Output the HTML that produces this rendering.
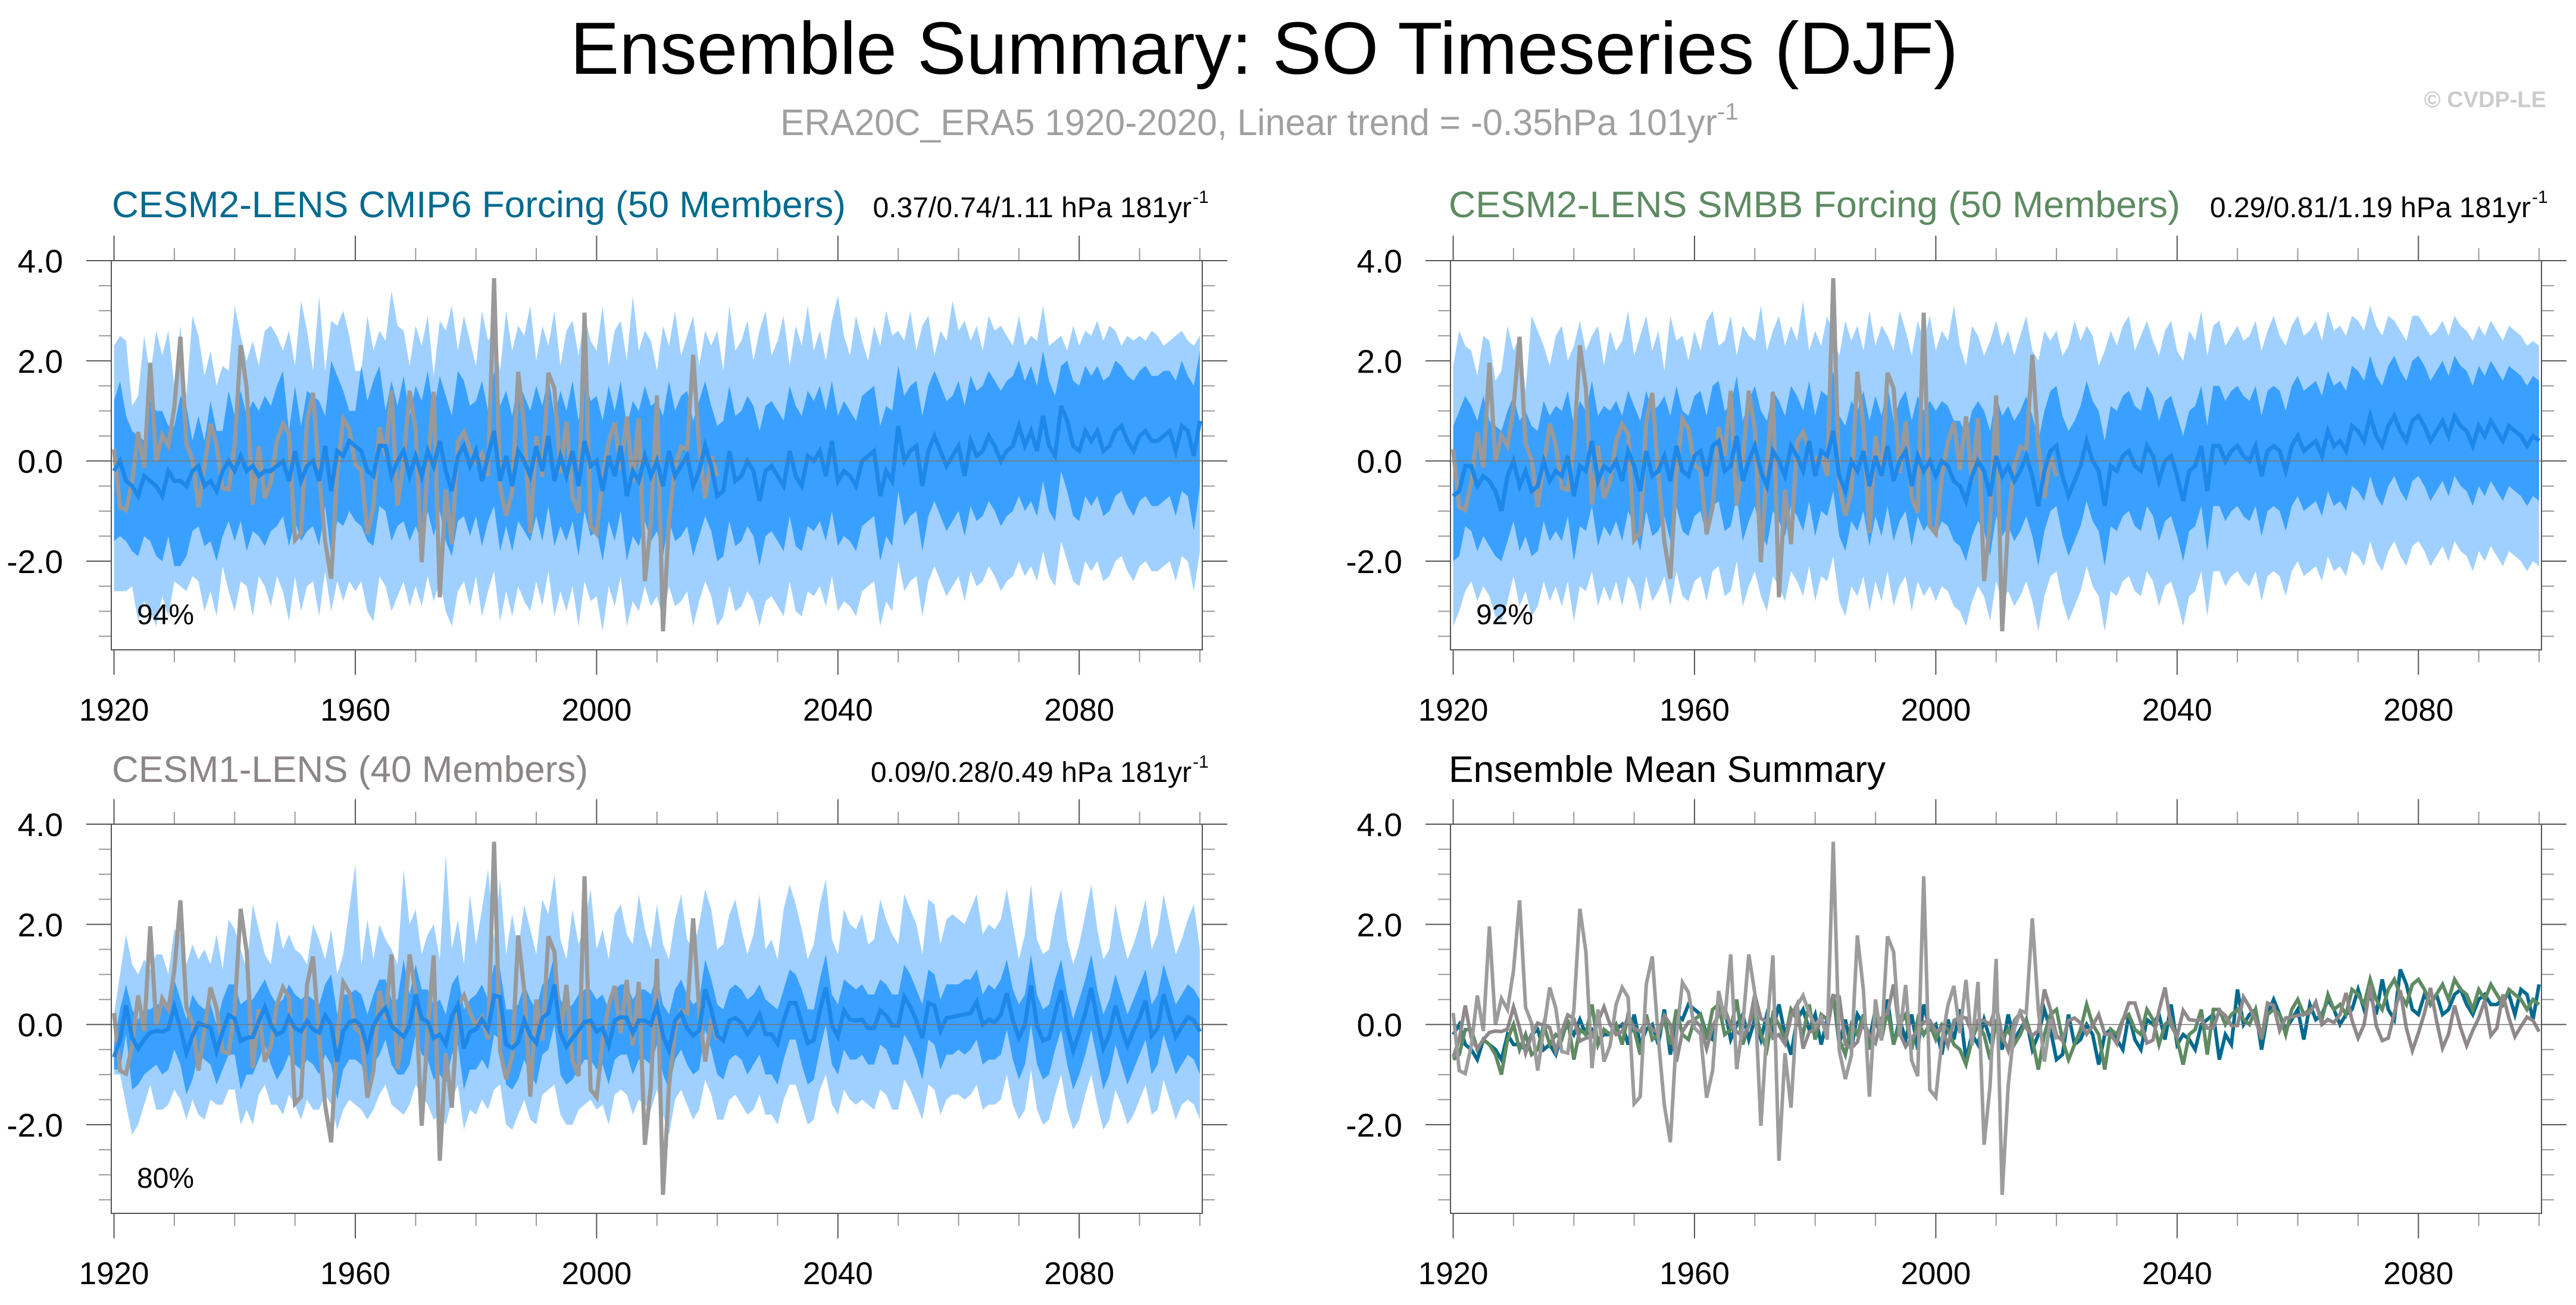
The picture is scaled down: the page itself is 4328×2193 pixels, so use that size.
<!DOCTYPE html>
<html><head><meta charset="utf-8"><title>Ensemble Summary: SO Timeseries (DJF)</title>
<style>
html,body{margin:0;padding:0;background:#fff;}
svg{display:block;font-family:"Liberation Sans",Arial,sans-serif;}
</style></head>
<body>
<svg id="chart" xmlns="http://www.w3.org/2000/svg" width="4328" height="2193" viewBox="0 0 4328 2193">
<rect x="0" y="0" width="4328" height="2193" fill="#ffffff"/>
<text x="2124" y="124" font-size="124" text-anchor="middle" textLength="2332" lengthAdjust="spacingAndGlyphs" fill="#000">Ensemble Summary: SO Timeseries (DJF)</text>
<text x="1311" y="227" font-size="62" fill="#a0a0a0"><tspan textLength="1574" lengthAdjust="spacingAndGlyphs">ERA20C_ERA5 1920-2020, Linear trend = -0.35hPa 101yr</tspan><tspan font-size="40" dy="-26">-1</tspan></text>
<text x="4278" y="180" font-size="38" font-weight="bold" text-anchor="end" fill="#cccccc">© CVDP-LE</text>

<text x="188" y="365" font-size="62" fill="#006a8e" textLength="1233" lengthAdjust="spacingAndGlyphs">CESM2-LENS CMIP6 Forcing (50 Members)</text>
<text x="2002" y="365" font-size="48" text-anchor="end" fill="#000">0.37/0.74/1.11 hPa 181yr</text>
<text x="2004" y="341" font-size="30" fill="#000">-1</text>

<text x="2434" y="365" font-size="62" fill="#5e8b62" textLength="1229" lengthAdjust="spacingAndGlyphs">CESM2-LENS SMBB Forcing (50 Members)</text>
<text x="4252" y="365" font-size="48" text-anchor="end" fill="#000">0.29/0.81/1.19 hPa 181yr</text>
<text x="4254" y="341" font-size="30" fill="#000">-1</text>

<text x="188" y="1314" font-size="62" fill="#8c8686" textLength="800" lengthAdjust="spacingAndGlyphs">CESM1-LENS (40 Members)</text>
<text x="2002" y="1314" font-size="48" text-anchor="end" fill="#000">0.09/0.28/0.49 hPa 181yr</text>
<text x="2004" y="1290" font-size="30" fill="#000">-1</text>

<text x="2434" y="1314" font-size="62" fill="#000" textLength="734" lengthAdjust="spacingAndGlyphs">Ensemble Mean Summary</text>
</svg>
<script>
const startYear = 1920;
const yTickValues = [-2, 0, 2, 4];
const yTickLabels = ["-2.0", "0.0", "2.0", "4.0"];
const xTickValues = [1920, 1960, 2000, 2040, 2080];
const xTickLabels = ["1920", "1960", "2000", "2040", "2080"];

const obs = [0.23,-0.92,-0.98,-0.42,0.58,-0.13,1.96,-0.01,0.52,0.3,
1.08,2.48,0.34,0.03,-0.92,-0.1,0.74,0.33,-0.54,-0.57,
0.3,2.31,1.45,-0.87,0.3,-0.74,-0.42,0.4,0.74,0.54,
-1.58,-1.44,0.8,1.36,-0.27,-1.61,-2.35,-0.22,0.84,0.64,
-0.07,-0.19,-1.46,-0.92,0.67,0.1,1.4,-0.89,0.0,1.4,
0.63,-2.02,-0.1,1.38,-2.72,-0.57,-1.66,0.38,0.58,0.23,
-0.02,0.15,-0.3,3.65,-0.52,-1.09,-0.62,1.78,0.68,-1.44,
0.5,-0.32,1.76,1.45,-0.24,0.79,-0.72,-1.03,2.96,-1.3,
-1.45,-0.32,0.38,0.77,-0.17,0.89,-0.42,0.85,-2.4,-1.22,
1.31,-3.4,-1.22,-0.1,0.28,0.23,2.12,0.28,-0.74,0.1,
-0.3];

/* CESM2-LENS CMIP6 */
const cmip6Mean = [-0.2,0.0,-0.4,-0.5,-0.7,-0.3,-0.4,-0.5,-0.7,-0.2,
-0.4,-0.4,-0.5,-0.2,-0.1,-0.5,-0.4,-0.6,-0.2,0.0,
-0.2,0.1,-0.2,-0.1,-0.3,-0.2,-0.2,-0.1,0.0,-0.4,
0.2,-0.4,-0.1,0.0,-0.4,0.3,-0.6,0.2,0.1,0.4,
0.3,0.2,-0.2,-0.3,0.3,0.3,-0.3,0.0,0.2,-0.3,
0.1,-0.3,0.2,-0.1,0.4,-0.2,-0.6,0.1,0.3,-0.1,
0.2,-0.4,0.1,0.6,-0.4,0.1,-0.5,0.2,0.0,-0.3,
0.3,-0.2,0.5,-0.4,0.1,-0.3,0.2,-0.5,0.4,-0.1,
0.0,-0.6,0.1,-0.3,0.3,-0.7,-0.2,-0.4,0.1,-0.3,
0.0,-0.5,0.2,-0.3,-0.1,0.1,-0.5,-0.2,0.3,-0.1,
-0.7,-0.6,0.2,-0.4,-0.3,0.0,-0.2,-0.8,-0.2,-0.1,
-0.3,-0.5,0.2,-0.3,-0.5,0.1,0.0,0.2,-0.3,0.4,
-0.4,-0.2,-0.3,-0.5,0.0,0.1,0.2,-0.7,-0.2,-0.4,
0.7,0.0,0.2,0.3,-0.5,0.2,0.5,0.2,-0.1,0.1,
0.3,-0.3,0.4,0.1,0.2,0.5,0.3,0.0,0.2,0.3,
0.7,0.3,0.6,0.2,0.9,0.3,0.1,1.1,0.8,0.3,
0.2,0.6,0.4,0.6,0.2,0.3,0.6,0.7,0.4,0.2,
0.5,0.6,0.4,0.4,0.5,0.6,0.2,0.7,0.6,0.1,
0.8];
const cmip6OuterHigh = [2.3,2.5,2.4,1.1,1.3,2.5,1.7,2.6,2.1,2.6,
1.5,2.7,1.3,2.9,2.5,1.7,2.2,1.5,1.9,1.8,
3.1,2.5,2.0,2.4,1.9,2.6,2.7,2.5,2.2,2.6,
1.9,3.2,2.6,1.8,3.3,1.8,2.8,2.7,3.0,2.5,
1.8,1.8,2.9,2.2,2.6,2.4,3.4,2.7,2.6,1.9,
2.7,2.3,2.9,1.7,2.8,2.6,3.1,2.2,2.9,2.4,
1.9,3.0,2.4,2.6,1.8,3.0,2.2,2.7,2.5,3.1,
2.0,2.7,2.3,3.0,1.9,2.6,2.8,2.1,2.9,2.4,
2.2,3.1,1.9,2.6,2.8,2.0,3.3,2.2,2.6,2.4,
1.8,2.7,2.3,3.0,2.1,2.5,2.9,1.9,2.6,2.3,
2.6,1.8,3.1,2.2,2.4,2.8,2.0,2.6,3.0,2.1,
2.4,2.9,1.9,2.7,2.3,3.1,2.2,2.6,2.0,2.8,
3.3,2.5,2.1,2.9,2.4,2.0,2.7,2.3,3.0,2.5,
2.6,2.4,3.0,2.2,2.7,2.9,2.1,2.6,2.4,3.2,
2.6,2.8,2.4,2.7,2.2,2.9,2.6,2.7,2.5,2.3,
2.9,2.3,2.5,2.4,3.1,2.3,2.4,2.5,2.2,2.7,
2.3,2.6,2.5,2.8,2.4,2.7,2.6,2.3,2.5,2.4,
2.5,2.4,2.6,2.5,2.3,2.4,2.5,2.6,2.4,2.3,
2.5];
const cmip6InnerHigh = [1.2,1.6,0.9,0.6,0.5,0.4,1.2,1.0,1.0,0.7,
0.7,1.3,1.1,0.4,0.9,0.4,1.2,0.6,0.6,1.4,
0.9,1.4,0.9,1.2,1.0,1.3,1.1,1.5,1.8,0.6,
1.5,0.7,1.4,1.3,1.2,0.9,2.0,1.7,1.4,1.0,
1.0,1.9,1.2,1.6,1.9,1.0,1.6,1.1,1.7,0.9,
1.5,1.2,1.8,1.0,1.7,1.3,0.9,1.8,1.6,1.1,
1.2,1.6,1.0,1.8,1.1,1.4,0.9,1.6,1.3,1.0,
1.5,1.1,1.7,0.9,1.4,1.0,1.6,0.8,1.7,1.2,
1.3,0.8,1.5,1.0,1.6,0.7,1.2,1.0,1.5,1.1,
1.2,0.9,1.6,1.0,1.3,1.4,0.8,1.2,1.6,1.1,
0.7,0.8,1.5,0.9,1.0,1.3,1.1,0.6,1.1,1.2,
1.0,0.8,1.5,1.1,0.9,1.4,1.2,1.5,1.0,1.6,
0.9,1.2,1.0,0.8,1.3,1.4,1.5,0.7,1.1,1.0,
1.9,1.3,1.5,1.6,0.9,1.5,1.8,1.5,1.2,1.3,
1.6,1.1,1.7,1.4,1.5,1.8,1.6,1.4,1.6,1.7,
2.0,1.6,1.9,1.5,2.2,1.6,1.3,1.9,2.0,1.6,
1.5,1.9,1.7,1.9,1.6,1.7,2.0,1.9,1.7,1.6,
1.8,1.9,1.7,1.7,1.8,1.8,1.6,2.0,1.7,1.5,
2.2];
const cmip6InnerLow = [-1.6,-1.5,-1.6,-1.8,-1.9,-1.5,-1.6,-1.9,-2.0,-1.5,
-2.1,-2.1,-1.9,-1.4,-1.3,-1.7,-1.6,-2.0,-1.5,-1.2,
-1.6,-1.2,-1.8,-1.4,-1.5,-1.7,-1.4,-1.3,-1.1,-1.7,
-1.2,-1.6,-1.4,-1.3,-1.7,-0.9,-1.9,-1.2,-1.3,-1.0,
-1.2,-1.3,-1.6,-1.7,-0.9,-1.0,-1.6,-1.3,-1.2,-1.6,
-1.3,-1.6,-1.0,-1.5,-1.0,-1.6,-1.9,-1.2,-1.1,-1.5,
-1.1,-1.7,-1.2,-0.9,-1.8,-1.3,-1.8,-1.2,-1.4,-1.6,
-1.1,-1.6,-0.9,-1.7,-1.3,-1.6,-1.2,-1.9,-1.0,-1.5,
-1.4,-2.0,-1.2,-1.6,-1.0,-2.0,-1.5,-1.7,-1.2,-1.6,
-1.4,-1.9,-1.2,-1.6,-1.5,-1.3,-1.9,-1.5,-1.1,-1.4,
-2.0,-1.9,-1.2,-1.7,-1.6,-1.3,-1.5,-2.1,-1.5,-1.4,
-1.6,-1.8,-1.1,-1.7,-1.8,-1.3,-1.4,-1.2,-1.6,-1.0,
-1.7,-1.5,-1.6,-1.8,-1.3,-1.2,-1.1,-2.0,-1.5,-1.7,
-0.6,-1.3,-1.1,-1.0,-1.8,-1.1,-0.8,-1.1,-1.4,-1.2,
-1.0,-1.5,-0.9,-1.2,-1.1,-0.8,-1.0,-1.3,-1.1,-1.0,
-0.7,-1.0,-0.8,-1.1,-0.4,-1.0,-1.2,-0.2,-0.6,-1.1,
-1.2,-0.7,-0.9,-0.7,-1.1,-1.0,-0.7,-0.6,-0.9,-1.1,
-0.8,-0.7,-0.9,-0.9,-0.8,-0.7,-1.1,-0.6,-0.7,-1.4,
-0.5];
const cmip6OuterLow = [-2.6,-2.6,-2.6,-2.5,-3.2,-2.8,-3.0,-3.3,-2.7,-3.1,
-2.4,-2.5,-2.6,-2.3,-2.4,-3.0,-2.6,-3.1,-2.1,-2.6,
-3.0,-2.4,-2.5,-3.1,-2.3,-2.5,-2.9,-2.3,-2.6,-3.2,
-2.3,-3.0,-2.5,-2.4,-3.1,-2.2,-3.0,-2.4,-2.8,-2.4,
-2.6,-2.4,-3.0,-3.2,-2.3,-2.5,-3.0,-2.7,-2.4,-2.9,
-2.5,-2.9,-2.3,-2.8,-2.4,-3.0,-3.3,-2.6,-2.4,-2.9,
-2.3,-3.1,-2.6,-2.2,-3.2,-2.6,-3.1,-2.5,-2.8,-3.0,
-2.4,-2.9,-2.2,-3.1,-2.6,-3.0,-2.5,-3.3,-2.4,-2.8,
-2.7,-3.4,-2.5,-2.9,-2.3,-3.3,-2.8,-3.0,-2.5,-2.9,
-2.7,-3.2,-2.5,-2.9,-2.8,-2.6,-3.3,-2.8,-2.4,-2.7,
-3.3,-3.1,-2.5,-3.0,-2.9,-2.6,-2.8,-3.3,-2.8,-2.7,
-2.9,-3.1,-2.4,-3.0,-3.1,-2.6,-2.7,-2.5,-2.9,-2.3,
-3.0,-2.8,-2.9,-3.1,-2.6,-2.5,-2.4,-3.3,-2.8,-3.0,
-2.0,-2.6,-2.4,-2.3,-3.1,-2.4,-2.1,-2.4,-2.7,-2.5,
-2.3,-2.8,-2.2,-2.5,-2.4,-2.1,-2.3,-2.6,-2.4,-2.3,
-2.0,-2.3,-2.1,-2.4,-1.8,-2.3,-2.5,-1.6,-2.0,-2.4,
-2.5,-2.0,-2.2,-2.0,-2.4,-2.3,-2.0,-1.9,-2.2,-2.4,
-2.1,-2.0,-2.2,-2.2,-2.1,-2.0,-2.4,-1.9,-2.0,-2.6,
-1.8];

/* CESM2-LENS SMBB */
const smbbMean = [-0.7,-0.6,-0.1,-0.1,-0.5,-0.3,-0.4,-0.6,-1.0,-0.3,
0.0,-0.5,-0.2,-0.6,-0.5,0.0,-0.4,-0.2,-0.3,0.1,
-0.7,-0.1,-0.2,0.4,-0.4,-0.1,-0.2,0.0,-0.4,0.2,
-0.1,-0.6,0.2,-0.3,-0.2,0.1,-0.4,0.3,-0.2,-0.3,
0.1,0.2,-0.3,0.3,0.4,-0.2,-0.1,0.5,-0.4,0.0,
0.3,-0.2,-0.5,0.2,0.0,-0.3,0.3,0.1,-0.2,0.4,
-0.3,0.2,0.1,0.6,-0.3,-0.6,0.0,-0.2,0.2,-0.5,
0.1,-0.3,0.3,-0.4,0.0,0.2,-0.5,0.1,-0.2,0.0,
-0.3,0.0,-0.1,-0.4,-0.5,-0.8,-0.3,0.0,-0.2,-0.7,
0.1,-0.3,-0.1,-0.4,-0.2,0.1,-0.3,-0.9,-0.2,0.2,
0.3,-0.3,-0.7,-0.4,-0.1,0.4,0.0,-0.2,-0.9,-0.1,
-0.2,0.1,0.2,-0.1,-0.2,0.3,0.1,-0.4,0.0,0.1,
-0.3,-0.8,-0.2,-0.1,0.3,-0.6,0.3,0.3,0.0,0.2,
0.3,0.1,0.0,0.3,-0.3,0.2,0.3,0.2,-0.2,0.3,
0.5,0.2,0.3,0.4,0.1,0.6,0.3,0.4,0.2,0.7,
0.6,0.4,0.9,0.5,0.3,0.7,0.9,0.6,0.4,0.8,
0.9,0.7,0.4,0.6,0.8,0.5,0.9,0.7,0.6,0.3,
0.7,0.5,0.8,0.6,0.4,0.7,0.6,0.5,0.3,0.5,
0.4];
const smbbOuterHigh = [1.9,2.6,2.3,2.2,1.7,2.5,2.4,1.6,1.8,2.7,
2.2,2.5,1.4,2.9,2.6,2.3,1.9,2.5,2.7,2.0,
2.3,2.8,2.2,2.5,2.7,1.9,2.6,2.2,2.4,3.0,
2.1,2.5,2.9,2.2,2.6,1.8,2.9,2.4,2.5,2.0,
2.6,2.2,2.8,3.0,2.3,2.4,2.9,2.1,2.7,2.5,
2.4,3.1,2.2,2.6,2.9,2.3,2.7,2.4,3.2,2.2,
2.6,2.3,2.9,2.5,2.1,2.8,2.4,2.7,2.2,3.0,
2.3,2.7,2.5,2.2,3.0,2.6,2.1,2.8,2.4,2.9,
2.2,2.6,2.4,3.1,2.3,1.9,2.7,2.5,2.1,2.4,
2.8,2.3,2.6,2.1,2.5,2.9,2.2,2.0,2.6,2.4,
2.6,2.1,2.3,2.8,2.4,2.7,2.5,1.9,2.2,2.6,
2.3,2.7,2.9,2.2,2.5,2.8,2.4,2.1,2.6,2.8,
2.2,2.0,2.6,2.4,3.0,2.1,2.7,2.8,2.3,2.5,
2.7,2.4,2.5,2.8,2.2,2.6,2.9,2.5,2.3,2.7,
2.9,2.5,2.6,2.8,2.4,3.0,2.6,2.7,2.5,2.9,
2.8,2.6,3.1,2.7,2.5,2.9,2.8,2.6,2.4,2.9,
2.9,2.7,2.5,2.6,2.8,2.5,2.9,2.7,2.6,2.4,
2.7,2.5,2.8,2.6,2.4,2.7,2.6,2.5,2.3,2.4,
2.3];
const smbbInnerHigh = [0.7,1.0,1.3,1.1,0.8,1.3,0.8,0.7,0.6,1.0,
1.3,0.8,1.0,0.7,0.6,1.2,0.9,1.1,1.0,1.4,
0.7,1.2,1.0,1.6,0.9,1.1,1.0,1.2,0.9,1.4,
1.1,0.8,1.4,1.0,1.1,1.3,0.9,1.5,1.0,0.9,
1.3,1.4,0.9,1.5,1.6,1.0,1.1,1.7,0.8,1.2,
1.5,1.0,0.8,1.4,1.2,0.9,1.5,1.3,1.0,1.6,
0.9,1.4,1.3,1.8,0.9,0.7,1.2,1.0,1.4,0.8,
1.3,0.9,1.5,0.8,1.2,1.4,0.8,1.3,1.0,1.2,
1.0,1.2,1.1,0.8,0.8,0.5,1.0,1.2,1.0,0.6,
1.3,0.9,1.1,0.8,1.0,1.3,0.9,0.4,1.0,1.4,
1.5,0.9,0.6,0.8,1.1,1.6,1.2,1.0,0.4,1.1,
1.0,1.3,1.4,1.1,1.0,1.5,1.3,0.8,1.2,1.3,
0.9,0.5,1.0,1.1,1.5,0.7,1.5,1.5,1.2,1.4,
1.5,1.3,1.2,1.5,0.9,1.4,1.5,1.4,1.0,1.5,
1.7,1.4,1.5,1.6,1.3,1.8,1.5,1.6,1.4,1.9,
1.8,1.6,2.1,1.7,1.5,1.9,2.1,1.8,1.6,2.0,
2.1,1.9,1.6,1.8,2.0,1.7,2.1,1.9,1.8,1.5,
1.9,1.7,2.0,1.8,1.6,1.9,1.8,1.7,1.5,1.7,
1.6];
const smbbInnerLow = [-2.0,-1.9,-1.3,-1.4,-1.8,-1.5,-1.7,-1.9,-2.0,-1.6,
-1.2,-1.8,-1.5,-1.9,-1.8,-1.2,-1.6,-1.4,-1.6,-1.1,
-2.0,-1.3,-1.4,-0.9,-1.7,-1.3,-1.5,-1.2,-1.6,-1.0,
-1.3,-1.8,-1.0,-1.5,-1.4,-1.1,-1.6,-0.9,-1.4,-1.5,
-1.1,-1.0,-1.5,-0.9,-0.8,-1.4,-1.3,-0.7,-1.6,-1.2,
-0.9,-1.4,-1.7,-1.0,-1.2,-1.5,-0.9,-1.1,-1.4,-0.8,
-1.5,-1.0,-1.1,-0.6,-1.5,-1.8,-1.2,-1.4,-1.0,-1.7,
-1.1,-1.5,-0.9,-1.6,-1.2,-1.0,-1.7,-1.1,-1.4,-1.2,
-1.5,-1.2,-1.3,-1.6,-1.7,-2.0,-1.5,-1.2,-1.4,-1.9,
-1.1,-1.5,-1.3,-1.6,-1.4,-1.1,-1.5,-2.1,-1.4,-1.0,
-0.9,-1.5,-1.9,-1.6,-1.3,-0.8,-1.2,-1.4,-2.1,-1.3,
-1.4,-1.1,-1.0,-1.3,-1.4,-0.9,-1.1,-1.6,-1.2,-1.1,
-1.5,-2.0,-1.4,-1.3,-0.9,-1.8,-0.9,-0.9,-1.2,-1.0,
-0.9,-1.1,-1.2,-0.9,-1.5,-1.0,-0.9,-1.0,-1.4,-0.9,
-0.7,-1.0,-0.9,-0.8,-1.1,-0.6,-0.9,-0.8,-1.0,-0.5,
-0.6,-0.8,-0.3,-0.7,-0.9,-0.5,-0.3,-0.6,-0.8,-0.4,
-0.3,-0.5,-0.8,-0.6,-0.4,-0.7,-0.3,-0.5,-0.6,-0.9,
-0.5,-0.7,-0.4,-0.6,-0.8,-0.5,-0.6,-0.7,-0.9,-0.7,
-0.8];
const smbbOuterLow = [-3.3,-3.0,-2.6,-2.4,-2.8,-2.5,-2.7,-3.1,-3.2,-2.8,
-2.3,-2.9,-2.6,-3.1,-2.9,-2.4,-2.8,-2.5,-2.9,-2.4,
-3.2,-2.5,-2.6,-2.2,-2.9,-2.5,-2.8,-2.4,-2.9,-2.3,
-2.5,-3.0,-2.3,-2.8,-2.6,-2.3,-2.9,-2.2,-2.7,-2.8,
-2.4,-2.3,-2.8,-2.2,-2.1,-2.7,-2.6,-2.0,-2.9,-2.5,
-2.2,-2.7,-3.0,-2.3,-2.5,-2.8,-2.2,-2.4,-2.7,-2.1,
-2.8,-2.3,-2.4,-1.9,-2.8,-3.1,-2.5,-2.7,-2.3,-3.0,
-2.4,-2.8,-2.2,-2.9,-2.5,-2.3,-3.0,-2.4,-2.7,-2.5,
-2.8,-2.5,-2.6,-2.9,-3.0,-3.3,-2.8,-2.5,-2.7,-3.2,
-2.4,-2.8,-2.6,-2.9,-2.7,-2.4,-2.8,-3.4,-2.7,-2.3,
-2.2,-2.8,-3.2,-2.9,-2.6,-2.1,-2.5,-2.7,-3.4,-2.6,
-2.7,-2.4,-2.3,-2.6,-2.7,-2.2,-2.4,-2.9,-2.5,-2.4,
-2.8,-3.3,-2.7,-2.6,-2.2,-3.1,-2.2,-2.2,-2.5,-2.3,
-2.2,-2.4,-2.5,-2.2,-2.8,-2.3,-2.2,-2.3,-2.7,-2.2,
-2.0,-2.3,-2.2,-2.1,-2.4,-1.9,-2.2,-2.1,-2.3,-1.8,
-1.9,-2.1,-1.6,-2.0,-2.2,-1.8,-1.6,-1.9,-2.1,-1.7,
-1.6,-1.8,-2.1,-1.9,-1.7,-2.0,-1.6,-1.8,-1.9,-2.2,
-1.8,-2.0,-1.7,-1.9,-2.1,-1.8,-1.9,-2.0,-2.2,-2.0,
-2.1];

/* CESM1-LENS */
const cesm1Mean = [-0.65,-0.3,0.38,-0.27,-0.48,-0.3,-0.16,-0.13,-0.14,-0.09,
0.35,-0.07,-0.57,-0.22,0.03,-0.02,-0.06,-0.53,-0.14,0.19,
0.12,-0.33,-0.27,-0.25,0.06,0.35,0.0,-0.2,-0.14,0.15,
-0.07,-0.14,0.07,-0.1,-0.16,0.18,0.0,-0.74,-0.14,0.05,
0.08,-0.03,-0.48,-0.03,0.19,0.33,-0.03,-0.14,-0.24,-0.03,
0.6,0.12,0.06,-0.27,-0.2,-0.39,0.16,0.4,-0.48,-0.15,
-0.1,0.1,-0.1,0.58,0.55,-0.4,-0.47,-0.35,0.08,-0.22,
-0.37,0.13,0.23,0.8,-0.17,-0.44,-0.27,-0.12,0.05,0.08,
-0.14,-0.07,-0.42,0.08,0.15,0.13,-0.17,0.08,0.08,0.0,
0.38,-0.22,-0.52,0.08,0.23,-0.07,-0.22,-0.12,0.7,0.3,
-0.22,-0.32,0.08,0.13,0.03,-0.19,-0.02,0.2,-0.19,-0.19,
-0.38,0.08,0.43,0.43,0.03,-0.37,-0.31,0.28,0.74,-0.02,
-0.24,0.28,0.1,0.08,0.1,-0.07,-0.07,0.28,0.18,-0.02,
-0.02,0.55,0.35,0.08,-0.27,0.43,0.38,-0.12,0.13,0.15,
0.18,0.2,0.23,0.45,0.0,0.1,0.04,0.2,0.63,0.08,
-0.27,0.0,0.78,-0.02,-0.32,-0.27,0.23,0.68,-0.07,-0.52,
-0.17,0.23,0.73,0.08,-0.47,-0.19,0.38,-0.07,-0.42,-0.12,
0.13,0.48,-0.22,-0.07,0.6,0.13,-0.24,-0.04,0.15,0.08,
-0.14];
const cesm1OuterHigh = [0.2,1.0,1.8,1.2,1.0,1.3,1.1,1.4,1.4,1.0,
1.9,1.8,1.2,1.6,1.3,1.5,1.2,1.8,1.1,2.1,
1.9,1.5,1.1,2.4,1.9,1.4,1.2,2.1,1.5,1.8,
1.5,1.4,1.2,2.0,1.7,1.3,1.9,1.0,1.4,2.3,
3.2,1.2,2.1,1.3,2.0,1.7,1.5,1.2,3.1,2.0,
2.3,1.4,1.8,2.0,1.3,3.4,1.5,2.1,1.2,2.6,
1.6,2.3,3.1,1.7,2.9,1.4,2.2,1.5,2.4,1.9,
1.4,2.5,2.2,3.0,1.7,1.3,2.3,1.6,2.0,2.7,
1.5,1.9,1.3,2.2,2.4,1.8,1.6,2.6,1.9,1.5,
2.4,1.6,1.3,2.1,2.6,1.7,1.5,2.0,2.7,2.3,
1.5,1.6,2.2,2.5,1.9,1.4,1.8,2.6,1.5,1.7,
1.3,2.3,2.8,2.4,1.9,1.3,1.6,2.4,2.9,1.7,
1.4,2.3,2.0,1.9,2.2,1.6,1.7,2.5,2.1,1.8,
1.6,2.6,2.3,2.0,1.4,2.5,2.4,1.6,2.1,2.2,
2.1,2.0,2.3,2.6,1.8,2.0,1.9,2.1,2.7,2.0,
1.3,1.8,2.8,1.7,1.4,1.5,2.2,2.7,1.7,1.2,
1.6,2.2,2.8,1.9,1.3,1.5,2.4,1.8,1.3,1.6,
2.0,2.5,1.5,1.8,2.6,2.0,1.4,1.7,2.1,2.4,
1.5];
const cesm1InnerHigh = [-0.4,0.3,0.8,0.3,0.1,0.3,0.3,0.4,0.4,0.3,
0.9,0.5,0.1,0.6,0.4,0.3,0.4,0.0,0.5,0.8,
0.8,0.4,0.5,0.5,0.7,0.9,0.6,0.4,0.5,0.8,
0.6,0.5,0.6,0.5,0.4,0.8,1.0,0.2,0.6,0.6,
0.7,0.6,0.2,0.6,0.9,0.9,0.5,0.5,1.3,0.6,
1.2,0.7,0.7,0.4,0.5,0.2,0.8,1.0,0.3,0.5,
0.6,0.8,0.5,1.2,1.1,0.3,0.3,0.4,0.8,0.5,
0.3,0.8,0.9,1.4,0.5,0.3,0.4,0.6,0.7,0.7,
0.5,0.6,0.3,0.7,0.8,0.8,0.5,0.7,0.7,0.6,
1.0,0.4,0.2,0.7,0.9,0.6,0.4,0.5,1.3,0.9,
0.4,0.3,0.7,0.8,0.7,0.5,0.6,0.8,0.5,0.4,
0.3,0.7,1.1,1.0,0.7,0.3,0.3,0.9,1.4,0.6,
0.4,0.9,0.8,0.7,0.8,0.6,0.6,0.9,0.8,0.6,
0.6,1.2,1.0,0.7,0.4,1.1,1.0,0.5,0.8,0.8,
0.8,0.9,0.9,1.1,0.6,0.8,0.7,0.9,1.3,0.7,
0.4,0.6,1.4,0.6,0.3,0.4,0.9,1.3,0.6,0.1,
0.5,0.9,1.4,0.7,0.2,0.5,1.0,0.6,0.2,0.5,
0.8,1.1,0.4,0.6,1.2,0.8,0.4,0.6,0.8,0.7,
0.5];
const cesm1InnerLow = [-0.9,-0.9,-0.2,-1.3,-1.2,-1.0,-0.9,-0.8,-1.0,-0.9,
-0.5,-0.8,-1.4,-1.1,-0.6,-0.7,-0.8,-1.2,-0.9,-0.6,
-0.6,-1.3,-1.0,-1.0,-0.7,-0.4,-0.8,-1.1,-0.9,-0.6,
-0.8,-0.9,-0.7,-0.8,-1.0,-0.6,-0.8,-1.5,-0.9,-0.7,
-0.7,-0.8,-1.3,-0.8,-0.6,-0.3,-0.8,-1.0,-1.0,-0.8,
-0.2,-0.6,-0.7,-1.1,-1.0,-1.2,-0.6,-0.4,-1.3,-0.9,
-0.9,-0.7,-0.9,-0.2,-0.3,-1.2,-1.3,-1.1,-0.7,-1.0,
-1.2,-0.6,-0.5,0.0,-1.0,-1.2,-1.1,-0.9,-0.7,-0.7,
-0.9,-0.8,-1.2,-0.7,-0.6,-0.6,-1.0,-0.7,-0.7,-0.8,
-0.4,-1.0,-1.3,-0.7,-0.5,-0.8,-1.0,-0.9,-0.1,-0.5,
-1.0,-1.1,-0.7,-0.6,-0.7,-1.0,-0.8,-0.6,-1.0,-1.0,
-1.2,-0.7,-0.3,-0.3,-0.8,-1.2,-1.1,-0.5,0.0,-0.8,
-1.0,-0.5,-0.7,-0.7,-0.6,-0.8,-0.8,-0.4,-0.5,-0.8,
-0.8,-0.2,-0.4,-0.7,-1.1,-0.3,-0.4,-0.9,-0.6,-0.6,
-0.5,-0.6,-0.5,-0.3,-0.8,-0.7,-0.7,-0.6,-0.1,-0.7,
-1.1,-0.8,0.0,-0.8,-1.1,-1.0,-0.5,-0.1,-0.8,-1.3,
-1.0,-0.6,-0.1,-0.7,-1.3,-1.0,-0.4,-0.8,-1.2,-0.9,
-0.6,-0.3,-1.0,-0.8,-0.2,-0.6,-1.0,-0.8,-0.6,-0.7,
-1.0];
const cesm1OuterLow = [-1.0,-1.0,-1.6,-2.2,-2.0,-1.6,-1.2,-1.7,-1.7,-1.6,
-1.3,-1.5,-1.9,-1.5,-1.8,-1.9,-1.5,-1.6,-1.6,-1.3,
-1.3,-2.0,-1.7,-2.0,-1.4,-1.2,-1.6,-1.6,-1.8,-1.4,
-1.6,-1.9,-1.5,-1.7,-1.7,-1.4,-1.6,-2.1,-1.7,-1.5,
-1.6,-1.7,-1.9,-1.7,-1.4,-1.2,-1.6,-1.7,-1.8,-1.6,
-1.2,-1.4,-1.6,-1.9,-1.8,-2.0,-1.5,-1.2,-2.1,-1.7,
-1.8,-1.5,-1.7,-1.3,-1.2,-2.0,-2.1,-1.8,-1.5,-1.9,
-2.0,-1.4,-1.3,-1.2,-1.8,-2.0,-2.0,-1.7,-1.6,-1.5,
-1.7,-1.6,-2.0,-1.4,-1.3,-1.4,-1.8,-1.5,-1.6,-1.7,
-1.3,-1.8,-2.2,-1.5,-1.3,-1.6,-1.9,-1.7,-1.1,-1.4,
-1.9,-1.9,-1.5,-1.4,-1.6,-1.8,-1.7,-1.4,-1.8,-1.8,
-2.0,-1.5,-1.2,-1.2,-1.6,-2.0,-1.9,-1.3,-1.0,-1.6,
-1.8,-1.3,-1.5,-1.6,-1.5,-1.6,-1.7,-1.3,-1.4,-1.7,
-1.7,-1.1,-1.3,-1.6,-1.9,-1.2,-1.3,-1.8,-1.5,-1.4,
-1.4,-1.5,-1.4,-1.2,-1.7,-1.6,-1.6,-1.5,-1.0,-1.6,
-1.9,-1.7,-0.9,-1.7,-2.0,-1.9,-1.4,-1.0,-1.7,-2.1,
-1.9,-1.4,-1.0,-1.6,-2.1,-1.9,-1.3,-1.6,-2.0,-1.8,
-1.5,-1.2,-1.8,-1.7,-1.1,-1.5,-1.9,-1.6,-1.5,-1.6,
-1.9];

const NS = "http://www.w3.org/2000/svg";
const svg = document.getElementById("chart");
const BOX_W = 1833, BOX_H = 654;
const X_MIN = 1919.55, X_MAX = 2100.4, Y_MIN = -3.77, Y_MAX = 4.0;

function el(tag, parent) {
  const e = document.createElementNS(NS, tag);
  parent.appendChild(e);
  return e;
}
function makeScales(left, top) {
  return {
    x: v => left + (v - X_MIN) / (X_MAX - X_MIN) * BOX_W,
    y: v => top + (Y_MAX - v) / (Y_MAX - Y_MIN) * BOX_H
  };
}
function linePoints(sc, arr) {
  return arr.map((v, i) => sc.x(startYear + i).toFixed(1) + "," + sc.y(v).toFixed(1)).join(" ");
}
function bandPoints(sc, hi, lo) {
  const up = hi.map((v, i) => sc.x(startYear + i).toFixed(1) + "," + sc.y(v).toFixed(1));
  const dn = lo.map((v, i) => sc.x(startYear + i).toFixed(1) + "," + sc.y(v).toFixed(1)).reverse();
  return up.concat(dn).join(" ");
}

function drawAxes(g, sc, left, top, key) {
  const right = left + BOX_W, bottom = top + BOX_H;
  const axisG = el("g", g);
  
  
  axisG.setAttribute("stroke", "#555");
  axisG.setAttribute("stroke-width", "2");
  for (let k = -7; k <= 8; k++) {
    const v = k * 0.5;
    const y = sc.y(v);
    const major = yTickValues.indexOf(v) >= 0;
    const len = major ? 42 : 21;
    const t1 = el("line", axisG);
    
    
    t1.setAttribute("x1", left - len); t1.setAttribute("x2", left);
    t1.setAttribute("y1", y); t1.setAttribute("y2", y);
    if (!major) t1.setAttribute("stroke", "#999");
    const t2 = el("line", axisG);
    
    
    t2.setAttribute("x1", right); t2.setAttribute("x2", right + len);
    t2.setAttribute("y1", y); t2.setAttribute("y2", y);
    if (!major) t2.setAttribute("stroke", "#999");
  }
  for (let yr = 1920; yr <= 2100; yr += 10) {
    const x = sc.x(yr);
    const major = xTickValues.indexOf(yr) >= 0;
    const len = major ? 42 : 21;
    const t1 = el("line", axisG);
    
    
    t1.setAttribute("x1", x); t1.setAttribute("x2", x);
    t1.setAttribute("y1", bottom); t1.setAttribute("y2", bottom + len);
    if (!major) t1.setAttribute("stroke", "#999");
    const t2 = el("line", axisG);
    
    
    t2.setAttribute("x1", x); t2.setAttribute("x2", x);
    t2.setAttribute("y1", top - len); t2.setAttribute("y2", top);
    if (!major) t2.setAttribute("stroke", "#999");
  }
  const zero = el("line", axisG);
  
  
  zero.setAttribute("x1", left); zero.setAttribute("x2", right);
  zero.setAttribute("y1", sc.y(0)); zero.setAttribute("y2", sc.y(0));
  zero.setAttribute("stroke", "#777");
  zero.setAttribute("stroke-width", "1.5");
  const box = el("rect", axisG);
  
  
  box.setAttribute("x", left); box.setAttribute("y", top);
  box.setAttribute("width", BOX_W); box.setAttribute("height", BOX_H);
  box.setAttribute("fill", "none");
  const labG = el("g", g);
  
  
  yTickValues.forEach((v, i) => {
    const t = el("text", labG);
    
    
    t.setAttribute("x", left - 81);
    t.setAttribute("y", sc.y(v) + 20);
    t.setAttribute("font-size", "55");
    t.setAttribute("text-anchor", "end");
    t.textContent = yTickLabels[i];
  });
  xTickValues.forEach((v, i) => {
    const t = el("text", labG);
    
    
    t.setAttribute("x", sc.x(v));
    t.setAttribute("y", bottom + 119);
    t.setAttribute("font-size", "53");
    t.setAttribute("text-anchor", "middle");
    t.textContent = xTickLabels[i];
  });
}

function drawEnsemblePanel(key, left, top, oHi, iHi, iLo, oLo, mean, pct) {
  const sc = makeScales(left, top);
  const g = el("g", svg);
  
  
  const outer = el("polygon", g);
  
  
  outer.setAttribute("points", bandPoints(sc, oHi, oLo));
  outer.setAttribute("fill", "#a0d0ff");
  const inner = el("polygon", g);
  
  
  inner.setAttribute("points", bandPoints(sc, iHi, iLo));
  inner.setAttribute("fill", "#3aa0ff");
  const obsLine = el("polyline", g);
  
  
  obsLine.setAttribute("points", linePoints(sc, obs));
  obsLine.setAttribute("fill", "none");
  obsLine.setAttribute("stroke", "#999999");
  obsLine.setAttribute("stroke-width", "7");
  const meanLine = el("polyline", g);
  
  
  meanLine.setAttribute("points", linePoints(sc, mean));
  meanLine.setAttribute("fill", "none");
  meanLine.setAttribute("stroke", "#1e88ea");
  meanLine.setAttribute("stroke-width", "7");
  drawAxes(g, sc, left, top, key);
  const p = el("text", g);
  
  
  p.setAttribute("x", left + 43);
  p.setAttribute("y", top + 611);
  p.setAttribute("font-size", "48");
  p.textContent = pct;
}

drawEnsemblePanel("cmip6", 187, 438, cmip6OuterHigh, cmip6InnerHigh, cmip6InnerLow, cmip6OuterLow, cmip6Mean, "94%");
drawEnsemblePanel("smbb", 2437, 438, smbbOuterHigh, smbbInnerHigh, smbbInnerLow, smbbOuterLow, smbbMean, "92%");
drawEnsemblePanel("cesm1", 187, 1385, cesm1OuterHigh, cesm1InnerHigh, cesm1InnerLow, cesm1OuterLow, cesm1Mean, "80%");

(function () {
  const left = 2437, top = 1385;
  const sc = makeScales(left, top);
  const g = el("g", svg);
  
  
  const l1 = el("polyline", g);
  
  
  l1.setAttribute("points", linePoints(sc, cmip6Mean));
  l1.setAttribute("fill", "none");
  l1.setAttribute("stroke", "#006a8e");
  l1.setAttribute("stroke-width", "6");
  const l2 = el("polyline", g);
  
  
  l2.setAttribute("points", linePoints(sc, smbbMean));
  l2.setAttribute("fill", "none");
  l2.setAttribute("stroke", "#5e8b62");
  l2.setAttribute("stroke-width", "6");
  const l3 = el("polyline", g);
  
  
  l3.setAttribute("points", linePoints(sc, cesm1Mean));
  l3.setAttribute("fill", "none");
  l3.setAttribute("stroke", "#8f898b");
  l3.setAttribute("stroke-width", "6");
  const l4 = el("polyline", g);
  
  
  l4.setAttribute("points", linePoints(sc, obs));
  l4.setAttribute("fill", "none");
  l4.setAttribute("stroke", "#9c9c9c");
  l4.setAttribute("stroke-width", "6");
  drawAxes(g, sc, left, top, "summary");
})();
</script>
</body></html>
